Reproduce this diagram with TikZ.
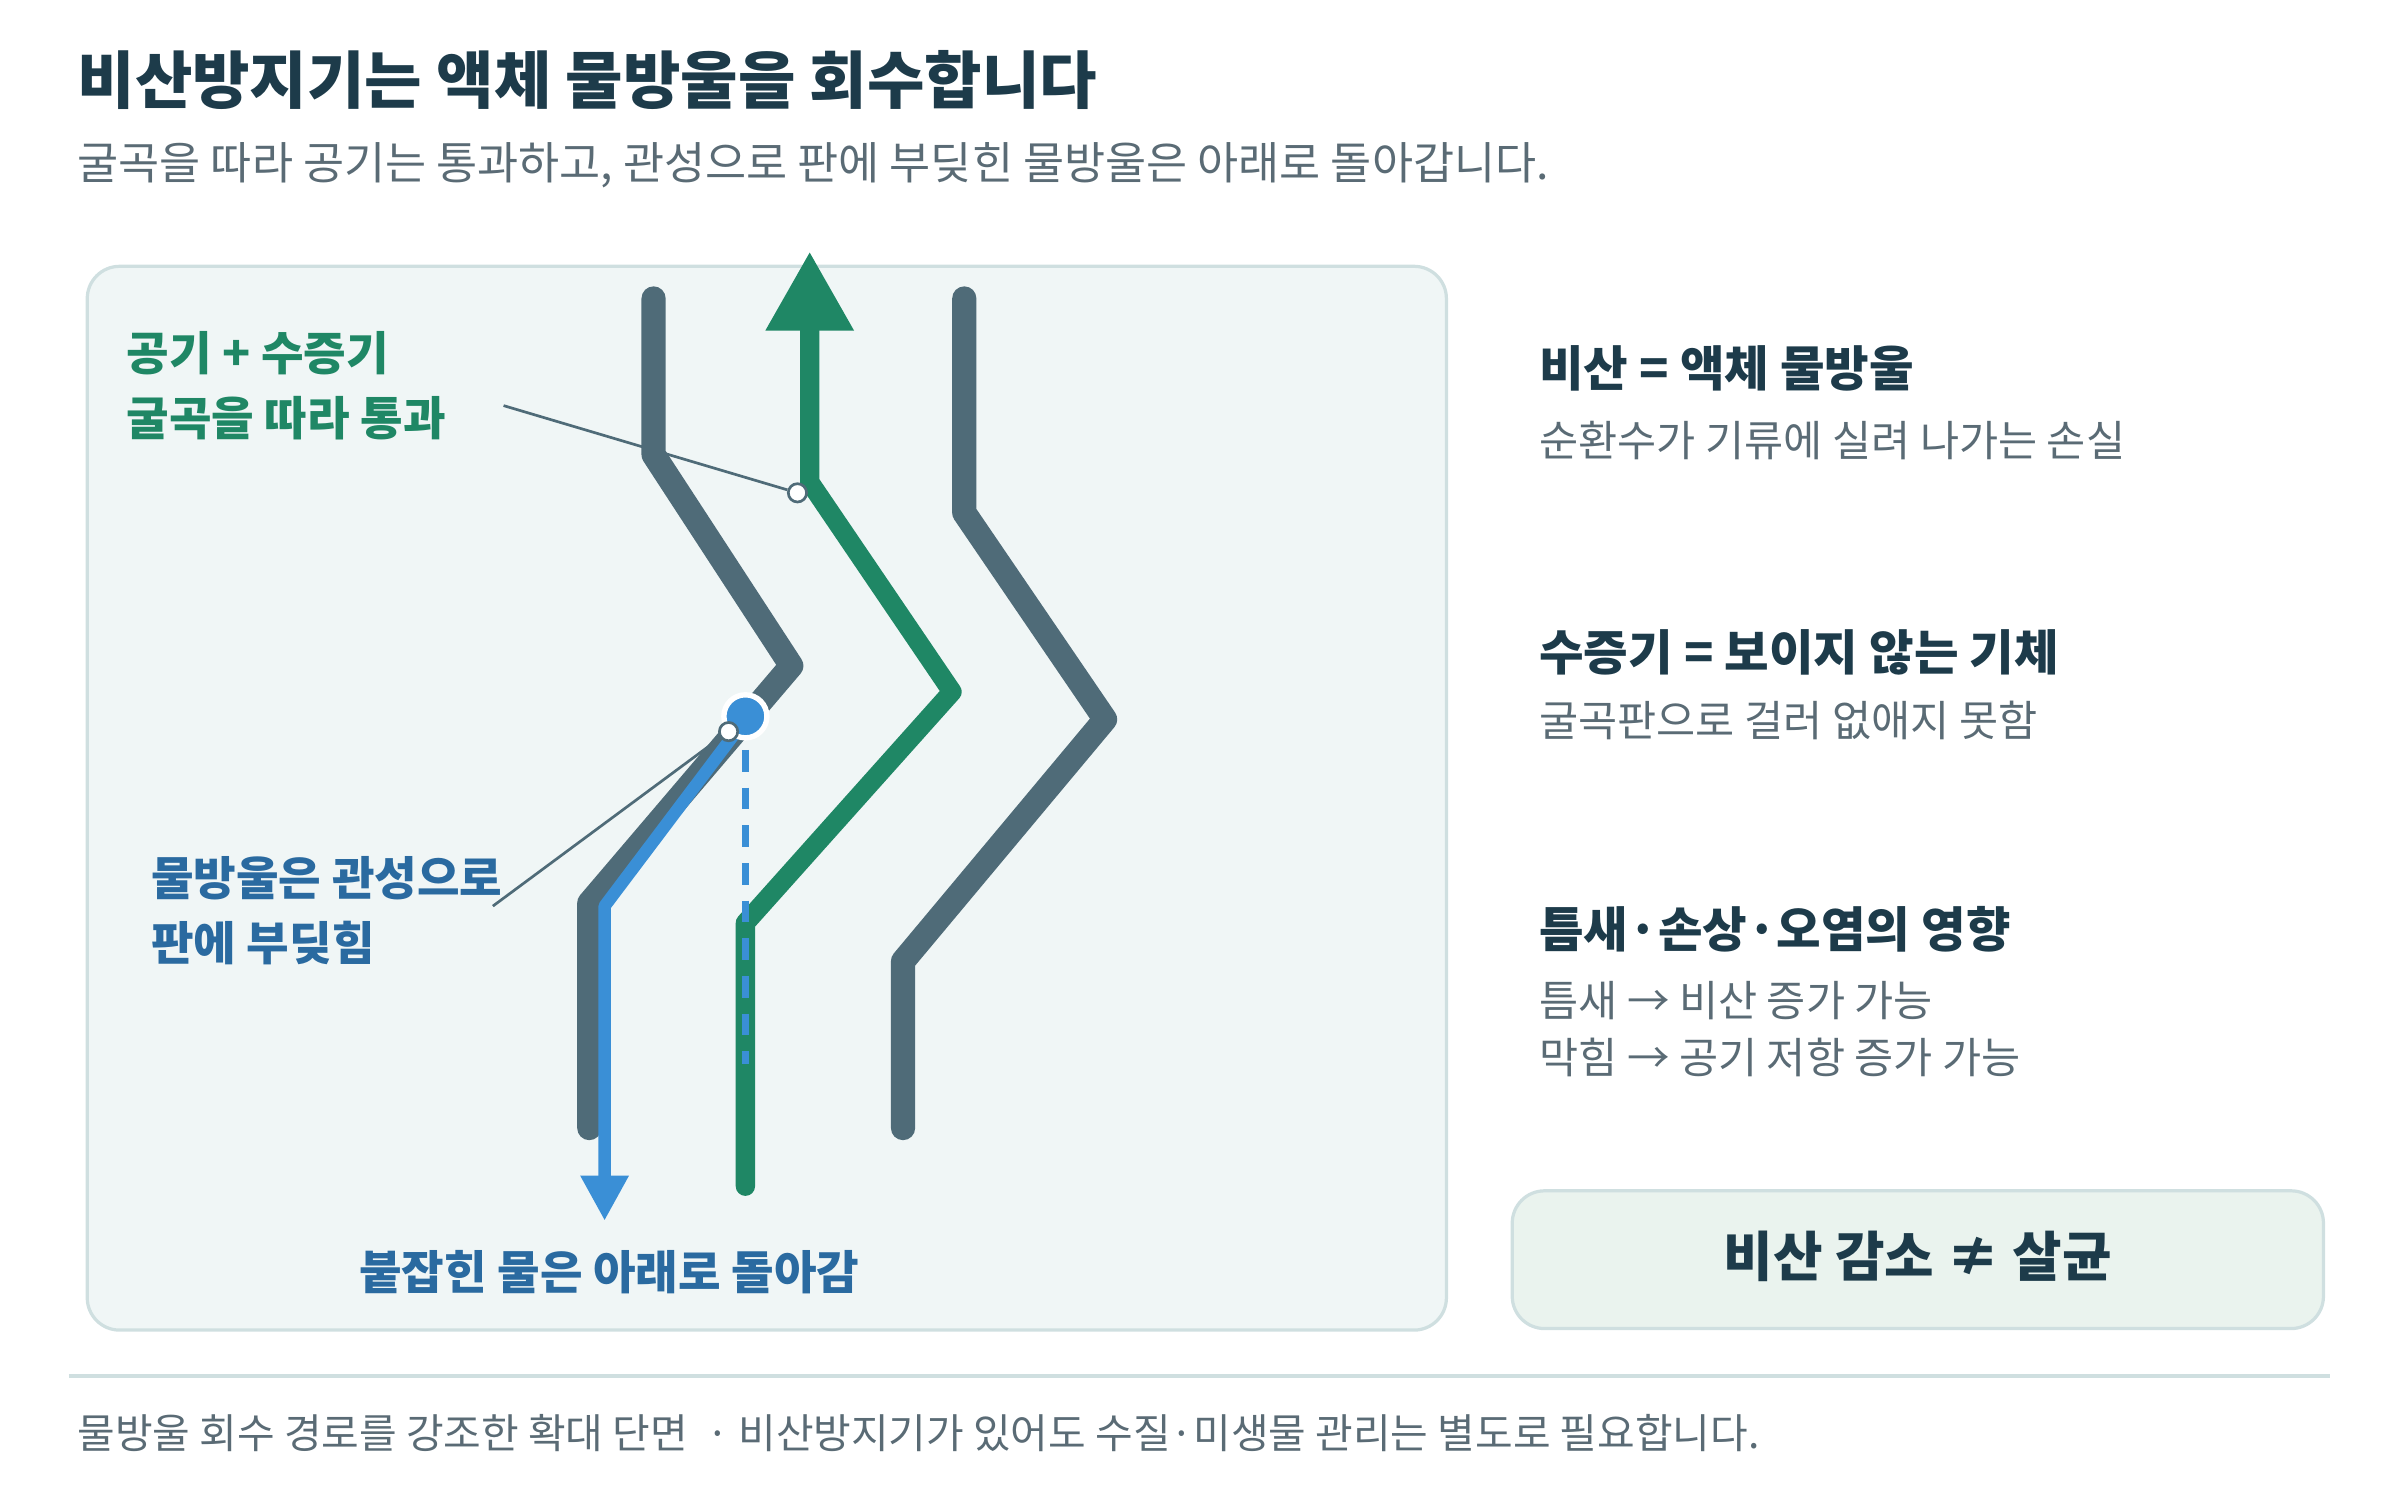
\documentclass[tikz,border=0pt]{standalone}
\usepackage{fontspec}
\setmainfont{Noto Sans CJK KR}
\usetikzlibrary{positioning,calc}
\definecolor{inkdark}{HTML}{1D3B4A}
\definecolor{inkgray}{HTML}{5A6B75}
\definecolor{chan}{HTML}{4F6B78}
\definecolor{airgreen}{HTML}{1F8765}
\definecolor{dropblue}{HTML}{3A8FD6}
\definecolor{dropdark}{HTML}{2A6AA0}
\definecolor{edge}{HTML}{CFDFE0}
\tikzset{
    title/.style={anchor=west,inner sep=0pt,font=\fontsize{11.6}{13}\selectfont\bfseries,text=inkdark},
    sub/.style={anchor=west,inner sep=0pt,font=\fontsize{7.9}{9}\selectfont,text=inkgray},
    head/.style={anchor=west,inner sep=0pt,font=\fontsize{9}{10}\selectfont\bfseries,text=inkdark},
    greenlbl/.style={anchor=west,inner sep=0pt,font=\fontsize{8.6}{10}\selectfont\bfseries,text=airgreen},
    bluelbl/.style={anchor=west,inner sep=0pt,font=\fontsize{8.6}{10}\selectfont\bfseries,text=dropdark},
    channel/.style={draw=chan,line width=4.5pt,line cap=round,line join=round},
    marker/.style={circle,draw=chan,fill=white,inner sep=0pt,minimum size=3.4pt,line width=0.5pt},
    leader/.style={draw=chan,line width=0.5pt},
}
\begin{document}
\begin{tikzpicture}[x=0.01cm,y=-0.01cm]
    \useasboundingbox (0,0) rectangle (1568,985);
    % title
    \node[title] (ttl) at (50,52) {비산방지기는 액체 물방울을 회수합니다};
    \node[sub,font=\fontsize{8.3}{9}\selectfont] (subt) at (50,108) {굴곡을 따라 공기는 통과하고, 관성으로 판에 부딪힌 물방울은 아래로 돌아갑니다.};
    % panel
    \draw[edge,fill={rgb,255:red,240;green,246;blue,246},line width=0.6pt,rounded corners=6pt] (57,174) rectangle (945,869);
    % channels
    \draw[channel] (427,195) -- (427,297) -- (517,435) -- (385,590) -- (385,737);
    \draw[channel] (630,195) -- (630,335) -- (722,470) -- (590,628) -- (590,737);
    % air path
    \draw[draw=airgreen,line width=3.6pt,line cap=round,line join=round] (487,775) -- (487,603) -- (622,452) -- (529,315) -- (529,205);
    \fill[airgreen] (500,216) -- (558,216) -- (529,165) -- cycle;
    % droplet path
    \draw[draw=dropblue,line width=2.3pt,line join=round] (395,775) -- (395,592) -- (487,470);
    \fill[dropblue] (379,768) -- (411,768) -- (395,797) -- cycle;
    \draw[dropblue,line width=1.4pt,dash pattern=on 4pt off 3pt] (487,490) -- (487,695);
    \node[circle,fill=dropblue,draw=white,line width=1pt,minimum size=8pt,inner sep=0pt] (drop) at (487,468) {};
    % markers and leaders
    \node[marker] (mair) at (521,322) {};
    \node[marker] (mdrop) at (476,478) {};
    \coordinate (lair) at (329,265);
    \coordinate (ldrop) at (322,592);
    \draw[leader] (lair) -- (mair);
    \draw[leader] (ldrop) -- (mdrop);
    % panel labels
    \node[greenlbl] (ga) at (82,231) {공기 + 수증기};
    \node[greenlbl] (gb) at (82,273) {굴곡을 따라 통과};
    \node[bluelbl] (ba) at (98,574) {물방울은 관성으로};
    \node[bluelbl] (bb) at (98,616) {판에 부딪힘};
    \node[bluelbl,anchor=center] (bc) at (398,831) {붙잡힌 물은 아래로 돌아감};
    % right column
    \node[head] (h1) at (1005,241) {비산 = 액체 물방울};
    \node[sub] (s1) at (1005,288) {순환수가 기류에 실려 나가는 손실};
    \node[head] (h2) at (1005,426) {수증기 = 보이지 않는 기체};
    \node[sub] (s2) at (1005,471) {굴곡판으로 걸러 없애지 못함};
    \node[head] (h3) at (1005,607) {틈새·손상·오염의 영향};
    \node[sub] (s3) at (1005,654) {틈새 → 비산 증가 가능};
    \node[sub] (s4) at (1005,691) {막힘 → 공기 저항 증가 가능};
    \draw[edge,fill={rgb,255:red,234;green,243;blue,238},line width=0.6pt,rounded corners=6pt] (988,778) rectangle (1518,868);
    \node[font=\fontsize{10}{12}\selectfont\bfseries,text=inkdark] (note) at (1253,821) {비산 감소 ≠ 살균};
    % footer
    \draw[edge,line width=0.6pt] (45,899) -- (1522,899);
    \node[sub,font=\fontsize{7.6}{9}\selectfont] (foot) at (50,936) {물방울 회수 경로를 강조한 확대 단면 \ · 비산방지기가 있어도 수질·미생물 관리는 별도로 필요합니다.};
\end{tikzpicture}
\end{document}
